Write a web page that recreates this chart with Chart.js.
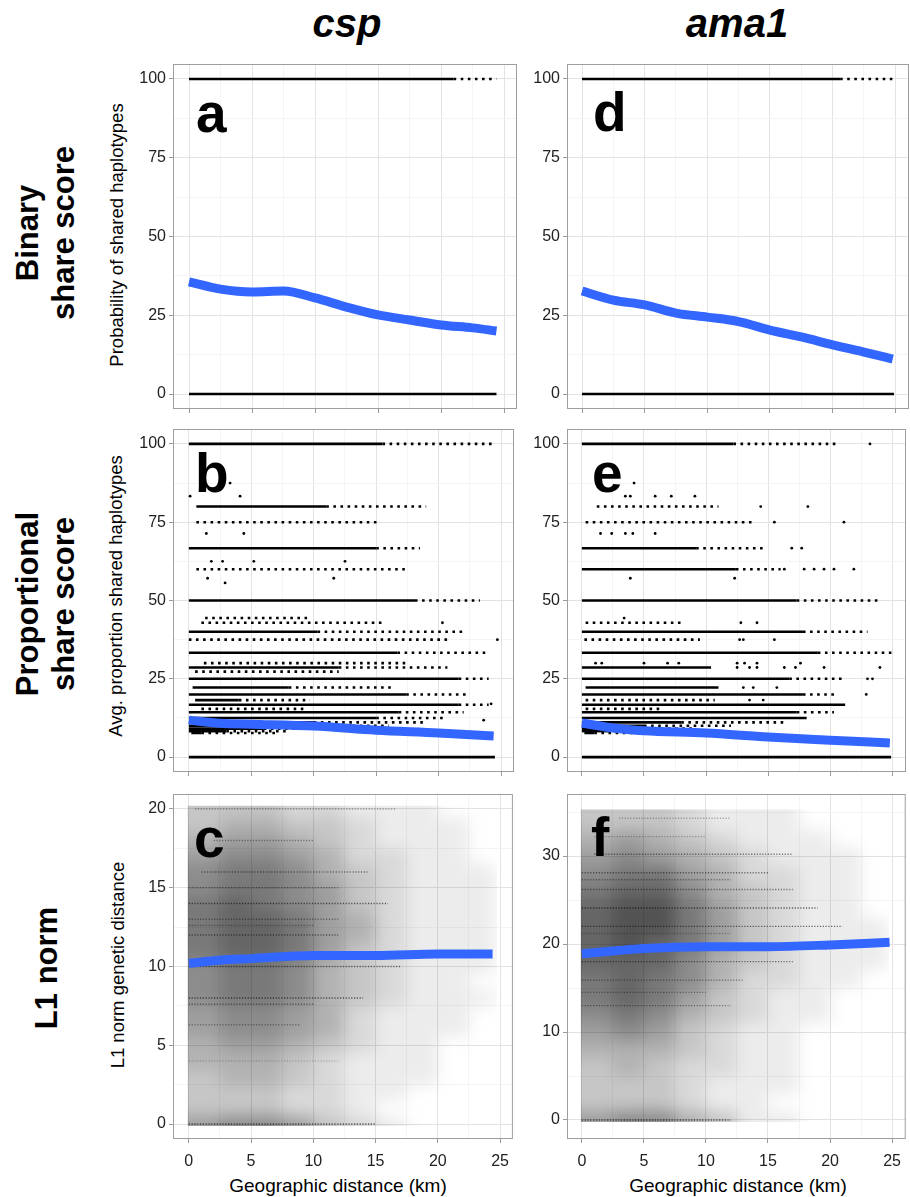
<!DOCTYPE html>
<html>
<head>
<meta charset="utf-8">
<script src="https://cdn.jsdelivr.net/npm/chart.js@4.4.1/dist/chart.umd.min.js"></script>
<style>
  body { margin: 0; background: #fff; width: 910px; height: 1197px; position: relative; overflow: hidden;
         font-family: "Liberation Sans", Arial, sans-serif; color: #000; }
  .txt { position: absolute; white-space: nowrap; line-height: 1; }
  .col-title { font-size: 40px; font-weight: bold; font-style: italic; transform: translateX(-50%); }
  .letter { font-size: 55px; font-weight: bold; }
  .rot { position: absolute; white-space: nowrap; text-align: center; transform: translate(-50%, -50%) rotate(-90deg); }
  .row-label { font-size: 31px; font-weight: bold; line-height: 36px; }
  .y-title { font-size: 18.5px; line-height: 1; }
  .x-title { font-size: 19px; transform: translateX(-50%); }
</style>
</head>
<body>

<div class="txt col-title" style="left:347px; top:3px;">csp</div>
<div class="txt col-title" style="left:737px; top:3px;">ama1</div>

<div class="rot row-label" style="left:46px; top:233px;">Binary<br>share score</div>
<div class="rot row-label" style="left:46px; top:604px;">Proportional<br>share score</div>
<div class="rot row-label" style="left:47px; top:968px;">L1 norm</div>

<div class="rot y-title" style="left:117px; top:235px;">Probability of shared haplotypes</div>
<div class="rot y-title" style="left:116px; top:596px;">Avg. proportion shared haplotypes</div>
<div class="rot y-title" style="left:118px; top:965px;">L1 norm genetic distance</div>

<div class="txt x-title" style="left:338px; top:1176px;">Geographic distance (km)</div>
<div class="txt x-title" style="left:738px; top:1176px;">Geographic distance (km)</div>

<script>
// ==================== DATA ====================
const xTicks = [0, 2.5, 5, 7.5, 10, 12.5, 15, 17.5, 20, 22.5, 25];
const shareTicks = [0, 12.5, 25, 37.5, 50, 62.5, 75, 87.5, 100];
const l1CspTicks = [0, 2.5, 5, 7.5, 10, 12.5, 15, 17.5, 20];
const l1AmaTicks = [0, 5, 10, 15, 20, 25, 30, 35];

// smooth (loess) curves
const smoothX_a = [0, 2.5, 5, 7.5, 10, 12.5, 15, 17.5, 20, 22.5, 24.4];
const smoothY_a = [35.6, 33.3, 32.4, 32.7, 30.5, 27.6, 25.1, 23.5, 21.9, 21.0, 20.0];
const smoothX_d = [0, 2.5, 5, 7.5, 10, 12.5, 15, 17.5, 20, 22.5, 24.8];
const smoothY_d = [32.7, 29.8, 28.3, 25.7, 24.4, 23.0, 20.3, 18.1, 15.6, 13.3, 11.1];
const smoothX_b = [0, 2.5, 5, 10, 15, 20, 24.4];
const smoothY_b = [11.8, 10.8, 10.5, 9.9, 8.6, 7.7, 6.7];
const smoothX_e = [0, 2.5, 5, 10, 15, 20, 24.8];
const smoothY_e = [10.9, 9.3, 8.4, 7.7, 6.4, 5.4, 4.5];
const smoothX_c = [0, 2.5, 5, 10, 15, 20, 24.4];
const smoothY_c = [10.2, 10.4, 10.5, 10.7, 10.7, 10.8, 10.8];
const smoothX_f = [0, 2.5, 5, 10, 15, 20, 24.8];
const smoothY_f = [18.9, 19.2, 19.5, 19.7, 19.7, 19.9, 20.2];

// binary share score: rows of points at 0 and 100 (level, start km, end of solid run, end of sparse run)
const bandLevel_a = [100, 0];
const bandStart_a = [0, 0];
const bandSolid_a = [21.0, 24.4];
const bandSparse_a = [24.4, 24.4];

const bandLevel_d = [100, 0];
const bandStart_d = [0, 0];
const bandSolid_d = [20.6, 24.9];
const bandSparse_d = [24.9, 24.9];

// proportional share score: rows of points at the common fractions
const bandLevel_b = [100, 80, 75, 66.7, 60, 50, 44.4, 42.9, 40, 37.5, 33.3, 30, 28.6, 27.3, 25, 22.2, 20, 18.2, 16.7, 15.4, 14.3, 12.5, 11.1, 10, 9.1, 8.3, 7.7, 0];
const bandStart_b = [0, 0.6, 0.6, 0, 0.6, 0, 1.3, 1.0, 0, 0, 0, 1.2, 0, 0.5, 0, 0.3, 0, 0.5, 0, 1.0, 0, 0, 0, 0, 0, 0, 0.2, 0];
const bandSolid_b = [15.5, 11.0, 0.6, 15.0, 0.6, 18.1, 1.3, 1.0, 10.3, 0, 16.7, 1.2, 12.0, 0.5, 21.6, 8.0, 17.4, 4.0, 21.6, 1.0, 16.8, 15.0, 10.0, 8.0, 6.0, 3.0, 1.0, 24.5];
const bandSparse_b = [24.3, 19.0, 15.3, 18.5, 17.5, 23.3, 9.7, 15.7, 21.9, 21.0, 24.0, 17.6, 20.7, 12.0, 24.0, 16.3, 22.3, 9.7, 24.0, 9.5, 22.0, 20.5, 19.0, 16.0, 11.0, 8.0, 7.0, 24.5];
const pointX_b = [0.1, 3.3, 4.1, 1.4, 4.4, 1.8, 2.7, 5.2, 12.5, 1.5, 11.6, 2.9, 20.3, 24.7, 23.6, 24.2];
const pointY_b = [83.3, 87.5, 83.3, 71.4, 71.4, 62.5, 62.5, 62.5, 62.5, 57.1, 57.1, 55.6, 42.9, 37.5, 11.8, 17.0];

const bandLevel_e = [100, 80, 75, 66.7, 60, 50, 42.9, 40, 37.5, 33.3, 28.6, 25, 22.2, 20, 18.2, 16.7, 15.4, 14.3, 12.5, 11.1, 10, 9.1, 8.3, 7.7, 0];
const bandStart_e = [0, 1.2, 0.3, 0, 0, 0, 0.3, 0, 0.2, 0, 0, 0, 0.3, 0, 0.3, 0, 0.3, 0, 0, 0, 0, 0, 0, 0.2, 0];
const bandSolid_e = [12.2, 1.2, 0.3, 9.2, 12.4, 17.3, 0.3, 17.8, 0.2, 19.0, 10.4, 16.7, 11.0, 17.8, 0.3, 21.2, 0.3, 17.3, 18.1, 8.0, 5.0, 3.5, 2.0, 1.0, 24.9];
const bandSparse_e = [20.6, 11.0, 13.9, 14.6, 16.0, 24.1, 8.0, 23.0, 9.5, 25.0, 10.4, 21.1, 11.0, 20.5, 10.7, 21.2, 6.3, 20.3, 18.1, 16.5, 12.0, 9.0, 7.3, 6.0, 24.9];
const pointX_e = [23.2, 4.2, 3.5, 3.9, 5.9, 7.2, 9.1, 14.4, 18.2, 15.5, 21.1, 1.5, 2.4, 3.5, 4.1, 5.9, 16.9, 17.7, 16.3, 17.9, 18.7, 19.5, 20.3, 21.9, 3.9, 12.3, 3.4, 12.8, 14.1, 12.7, 13.0, 15.5, 1.1, 1.6, 5.0, 6.9, 7.8, 12.5, 13.1, 14.1, 17.6, 12.5, 13.5, 14.1, 16.3, 17.2, 19.5, 24.0, 23.0, 23.4, 13.0, 13.8, 15.7, 22.9, 13.5, 14.6];
const pointY_e = [100, 87.5, 83.3, 83.3, 83.3, 83.3, 83.3, 80, 80, 75, 75, 71.4, 71.4, 71.4, 71.4, 71.4, 66.7, 66.7, 60, 60, 60, 60, 60, 60, 57.1, 57.1, 44.4, 42.9, 42.9, 37.5, 37.5, 37.5, 30, 30, 30, 30, 30, 30, 30, 30, 30, 28.6, 28.6, 28.6, 28.6, 28.6, 28.6, 28.6, 25, 25, 22.2, 22.2, 22.2, 20, 18.2, 18.2];

// L1 norm: point density read by eye (0-9), columns of 2.5 km, rows from the top level down
const cloudCols = [0, 2.5, 5, 7.5, 10, 12.5, 15, 17.5, 20, 22.5, 24.6];
const cloudLevels_c = [20, 19, 18, 17, 16, 15, 14, 13, 12, 11, 10, 9, 8, 7, 6, 5, 4, 3, 2, 1, 0];
const cloudRows_c = [
  "3332211100", "3443321110", "4554321110", "5665422110", "6776432111",
  "6776532111", "7876532111", "7887542111", "7887542111", "7887532111",
  "6776432111", "6776432110", "6776432111", "5665421110", "5665421110",
  "4554321100", "4443211100", "3443211100", "3332211000", "3332210000",
  "5665321000"
];
const cloudLevels_f = [34, 32, 30, 28, 26, 24, 22, 20, 18, 16, 14, 12, 10, 8, 6, 4, 2, 0];
const cloudRows_f = [
  "3332111000", "4543211100", "5654321110", "6775422110", "7886432110",
  "8997532110", "8997532111", "8987532111", "8886432111", "7876422110",
  "7875321100", "6764321100", "5653211000", "4443211000", "3432211000",
  "3332111000", "3332110000", "5664311000"
];
// darker horizontal streaks at repeated distance values
const streakLevel_c = [20, 18, 16, 15, 14, 13, 12.6, 12, 10, 8, 7.6, 6.3, 4, 0];
const streakStart_c = [0.5, 2, 1, 0, 0, 0, 0, 0, 0, 0, 0, 0, 0, 0];
const streakEnd_c = [16.7, 10, 14.5, 12, 16, 12, 10, 12, 17, 14, 10, 9, 12, 15];
const streakAlpha_c = [0.35, 0.4, 0.45, 0.4, 0.6, 0.4, 0.35, 0.5, 0.5, 0.6, 0.45, 0.35, 0.2, 0.6];

const streakLevel_f = [34.3, 32.2, 30.2, 28.1, 27.3, 26.2, 24.1, 22, 21.2, 18, 15.9, 14.5, 13, 0];
const streakStart_f = [3, 1, 1, 0, 0, 0, 0, 0, 0, 0, 0, 0, 0, 0];
const streakEnd_f = [12, 10, 17, 15, 12, 17, 19, 21, 12, 17, 13, 10, 12, 12];
const streakAlpha_f = [0.3, 0.3, 0.5, 0.5, 0.4, 0.5, 0.6, 0.6, 0.3, 0.55, 0.45, 0.4, 0.45, 0.6];

// ==================== LAYOUT ====================
const AXIS_W = 60;   // room for y tick labels left of each panel
const PAD_T = 20;
const PAD_R = 1;
const colLeft = [173, 567];
const colRight = [517, 909];
const rowTop = [64, 429, 794];
const rowBottom = [409, 772, 1139];
const colXRange = [[-1.27, 26.03], [-1.2, 26.1]];

const BLUE = "#3366FF";

// ==================== HELPERS ====================
function smoothSet(xs, ys) {
  return {
    data: xs.map((x, i) => ({ x: x, y: ys[i] })),
    showLine: true,
    borderColor: BLUE,
    borderWidth: 9,
    borderCapStyle: "butt",
    pointRadius: 0,
    cubicInterpolationMode: "monotone",
    order: -1,
  };
}

function bandSets(levels, starts, solids, sparses) {
  const sets = [];
  levels.forEach((lv, i) => {
    if (solids[i] > starts[i]) {
      sets.push({
        data: [{ x: starts[i], y: lv }, { x: solids[i], y: lv }],
        showLine: true, borderColor: "#000", borderWidth: 2.6, pointRadius: 0,
      });
    }
    if (sparses[i] > solids[i]) {
      sets.push({
        data: [{ x: solids[i], y: lv }, { x: sparses[i], y: lv }],
        showLine: true, borderColor: "#000", borderWidth: 2.6, borderDash: [2.6, 4.5], pointRadius: 0,
      });
    }
  });
  return sets;
}

function pointSet(xs, ys) {
  return {
    data: xs.map((x, i) => ({ x: x, y: ys[i] })),
    pointRadius: 1.4, pointBackgroundColor: "#000", pointBorderWidth: 0, showLine: false,
  };
}

function streakSets(levels, starts, ends, alphas) {
  return levels.map((lv, i) => ({
    data: [{ x: starts[i], y: lv }, { x: ends[i], y: lv }],
    showLine: true, borderColor: `rgba(0,0,0,${alphas[i]})`, borderWidth: 1.4,
    borderDash: [1.2, 1.6], pointRadius: 0,
  }));
}

// Plugin: blurred density cloud for the L1 norm panels
function cloudPlugin(cloud) {
  return {
    id: "cloud",
    beforeDatasetsDraw(chart) {
      if (!cloud) return;
      const { ctx } = chart;
      const xs = chart.scales.x;
      const ys = chart.scales.y;
      const off = document.createElement("canvas");
      off.width = chart.width;
      off.height = chart.height;
      const oc = off.getContext("2d");
      const last = cloud.rows.length - 1;
      cloud.rows.forEach((row, r) => {
        const lv = cloud.levels[r];
        // outer rows/column are extended so the blur keeps the cloud edges dense
        const hiVal = r === 0 ? cloud.top + 3 * cloud.step : lv + cloud.step / 2;
        const loVal = r === last ? -2 * cloud.step : lv - cloud.step / 2;
        const yTop = Math.round(ys.getPixelForValue(hiVal));
        const yBot = Math.round(ys.getPixelForValue(loVal));
        for (let c = 0; c < row.length; c++) {
          const d = +row[c];
          if (!d) continue;
          const x0 = Math.round(xs.getPixelForValue(c === 0 ? -3 : cloudCols[c]));
          const x1 = Math.round(xs.getPixelForValue(cloudCols[c + 1]));
          oc.fillStyle = `rgba(0,0,0,${d * 0.075})`;
          oc.fillRect(x0, yTop, x1 - x0, yBot - yTop);
        }
      });
      const cx0 = xs.getPixelForValue(0) - 1;
      const cx1 = xs.getPixelForValue(cloudCols[cloudCols.length - 1]) + 2;
      const cy0 = ys.getPixelForValue(cloud.top);
      const cy1 = ys.getPixelForValue(0) + 2;
      ctx.save();
      ctx.beginPath();
      ctx.rect(cx0, cy0, cx1 - cx0, cy1 - cy0);
      ctx.clip();
      ctx.filter = "blur(8px)";
      ctx.drawImage(off, 0, 0);
      ctx.restore();
    },
  };
}

// Plugin: grey panel border
const borderPlugin = {
  id: "panelBorder",
  afterDraw(chart) {
    const { ctx, chartArea } = chart;
    ctx.save();
    ctx.strokeStyle = "#9e9e9e";
    ctx.lineWidth = 1;
    ctx.strokeRect(chartArea.left + 0.5, chartArea.top + 0.5, chartArea.width - 1, chartArea.height - 1);
    ctx.restore();
  },
};

function axisGrid(isMajor) {
  return {
    color: (c) => (c.tick && isMajor(c.tick.value) ? "#e3e3e3" : "#f1f1f1"),
    lineWidth: (c) => (c.tick && isMajor(c.tick.value) ? 1 : 0.8),
    tickColor: (c) => (c.tick && isMajor(c.tick.value) ? "#9a9a9a" : "rgba(0,0,0,0)"),
    tickLength: 4,
    drawTicks: true,
  };
}

function makePanel(p) {
  const L = colLeft[p.col], R = colRight[p.col];
  const T = rowTop[p.row], B = rowBottom[p.row];
  const xH = p.row === 2 ? 50 : 24;
  const w = AXIS_W + (R - L) + PAD_R;
  const h = PAD_T + (B - T) + xH;
  const cv = document.createElement("canvas");
  cv.width = w;
  cv.height = h;
  cv.style.cssText = `position:absolute;left:${L - AXIS_W}px;top:${T - PAD_T}px;width:${w}px;height:${h}px;`;
  document.body.appendChild(cv);

  const xMajor = (v) => Math.abs(v % 5) < 1e-6;
  const yMajor = (v) => Math.abs(v % p.yMajorStep) < 1e-6;
  const tickFont = { family: "'Liberation Sans', Arial, sans-serif", size: 16 };

  new Chart(cv, {
    type: "scatter",
    data: { datasets: p.datasets },
    options: {
      responsive: false,
      animation: false,
      events: [],
      layout: { padding: { top: PAD_T, right: PAD_R, left: 0, bottom: 0 } },
      plugins: { legend: { display: false }, tooltip: { enabled: false } },
      scales: {
        x: {
          type: "linear",
          min: colXRange[p.col][0],
          max: colXRange[p.col][1],
          afterBuildTicks: (axis) => { axis.ticks = xTicks.map((v) => ({ value: v })); },
          afterFit: (axis) => { axis.height = xH; },
          ticks: {
            autoSkip: false, maxRotation: 0, padding: 9, color: "#222", font: tickFont,
            callback: (v) => (p.row === 2 && xMajor(v) ? String(v) : ""),
          },
          grid: axisGrid(xMajor),
          border: { display: false },
        },
        y: {
          type: "linear",
          min: p.yRange[0],
          max: p.yRange[1],
          afterBuildTicks: (axis) => { axis.ticks = p.yTicks.map((v) => ({ value: v })); },
          afterFit: (axis) => { axis.width = AXIS_W; },
          ticks: {
            autoSkip: false, padding: 3, color: "#222", font: tickFont,
            callback: (v) => (yMajor(v) ? String(v) : ""),
          },
          grid: axisGrid(yMajor),
          border: { display: false },
        },
      },
    },
    plugins: [cloudPlugin(p.cloud), borderPlugin],
  });

  // panel letter
  const lt = document.createElement("div");
  lt.className = "txt letter";
  lt.textContent = p.letter;
  lt.style.left = L + p.letterDx + "px";
  lt.style.top = T + p.letterBaseline - 46.6 + "px";
  document.body.appendChild(lt);
}

// ==================== PANELS ====================
document.addEventListener("DOMContentLoaded", function () {
  makePanel({
    letter: "a", col: 0, row: 0, letterDx: 23, letterBaseline: 69,
    yRange: [-4.76, 104.76], yTicks: shareTicks, yMajorStep: 25,
    datasets: [smoothSet(smoothX_a, smoothY_a)].concat(bandSets(bandLevel_a, bandStart_a, bandSolid_a, bandSparse_a)),
  });
  makePanel({
    letter: "d", col: 1, row: 0, letterDx: 26, letterBaseline: 68,
    yRange: [-4.76, 104.76], yTicks: shareTicks, yMajorStep: 25,
    datasets: [smoothSet(smoothX_d, smoothY_d)].concat(bandSets(bandLevel_d, bandStart_d, bandSolid_d, bandSparse_d)),
  });
  makePanel({
    letter: "b", col: 0, row: 1, letterDx: 22, letterBaseline: 64,
    yRange: [-4.76, 104.76], yTicks: shareTicks, yMajorStep: 25,
    datasets: [smoothSet(smoothX_b, smoothY_b), pointSet(pointX_b, pointY_b)]
      .concat(bandSets(bandLevel_b, bandStart_b, bandSolid_b, bandSparse_b)),
  });
  makePanel({
    letter: "e", col: 1, row: 1, letterDx: 25, letterBaseline: 64,
    yRange: [-4.76, 104.76], yTicks: shareTicks, yMajorStep: 25,
    datasets: [smoothSet(smoothX_e, smoothY_e), pointSet(pointX_e, pointY_e)]
      .concat(bandSets(bandLevel_e, bandStart_e, bandSolid_e, bandSparse_e)),
  });
  makePanel({
    letter: "c", col: 0, row: 2, letterDx: 21, letterBaseline: 64,
    yRange: [-0.95, 20.95], yTicks: l1CspTicks, yMajorStep: 5,
    cloud: { rows: cloudRows_c, levels: cloudLevels_c, step: 1, top: 20.2 },
    datasets: [smoothSet(smoothX_c, smoothY_c)].concat(streakSets(streakLevel_c, streakStart_c, streakEnd_c, streakAlpha_c)),
  });
  makePanel({
    letter: "f", col: 1, row: 2, letterDx: 24, letterBaseline: 63,
    yRange: [-2.16, 37.05], yTicks: l1AmaTicks, yMajorStep: 10,
    cloud: { rows: cloudRows_f, levels: cloudLevels_f, step: 2, top: 35.3 },
    datasets: [smoothSet(smoothX_f, smoothY_f)].concat(streakSets(streakLevel_f, streakStart_f, streakEnd_f, streakAlpha_f)),
  });
});
</script>
</body>
</html>
